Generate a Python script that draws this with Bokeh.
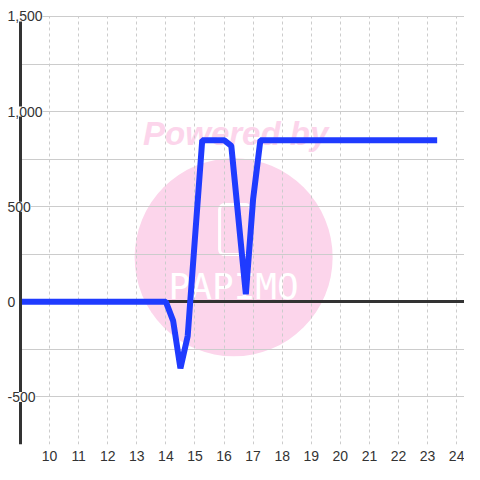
from bokeh.plotting import figure
from bokeh.models import ColumnDataSource, LabelSet, FixedTicker, Grid, Range1d
from bokeh.embed import file_html
from bokeh.resources import INLINE
from bokeh.core.properties import value

# ---- data (hours of day, value) ----
hours = [9.0, 13.75, 14.0, 14.25, 14.5, 14.75, 15.25, 16.0, 16.25, 16.75, 17.0, 17.25, 23.33]
values = [0, 0, 0, -100, -350, -180, 850, 850, 820, 40, 540, 850, 850]

x_ticks = [10, 11, 12, 13, 14, 15, 16, 17, 18, 19, 20, 21, 22, 23, 24]
y_grid_ticks = [-750, -500, -250, 0, 250, 500, 750, 1000, 1250, 1500]
y_label_values = [1500, 1000, 500, 0, -500]
y_label_texts = ["1,500", "1,000", "500", "0", "-500"]
zero_line = [0]

X_MIN, X_MAX = 9, 24.27
Y_MIN, Y_MAX = -750, 1500

FONT = "Liberation Sans"
PINK = "#fcd5eb"
BLUE = "#1f3bff"
DARK = "#333333"
GRID = "#cccccc"

p = figure(width=464, height=464,
           x_range=Range1d(8.312, X_MAX), y_range=Range1d(Y_MIN, 1584),
           output_backend="svg", toolbar_location=None,
           min_border_left=0, min_border_right=0,
           min_border_top=0, min_border_bottom=20)
p.outline_line_color = None
p.background_fill_color = "white"
p.border_fill_color = "white"

# ---- watermark (decoration) ----
p.scatter(x=[16.33], y=[234], size=198, marker="circle",
          fill_color=PINK, line_color=None, level="image")
p.text(x=[16.4], y=[885], text=["Powered by"], text_font=value(FONT),
       text_font_style="bold italic", text_font_size="33px", text_color=PINK,
       text_align="center", text_baseline="middle", level="image")
p.rect(x=[16.38], y=[380], width=31, height=50, width_units="screen",
       height_units="screen", fill_color=None, line_color="white",
       line_width=3, border_radius=5, level="image")
p.text(x=[16.33], y=[78], text=["PAPIMO"], text_font=value("DejaVu Sans Mono"),
       text_font_size="36px", text_color="white",
       text_align="center", text_baseline="middle", level="image")

# ---- grids ----
p.xaxis.ticker = FixedTicker(ticks=x_ticks)
p.xgrid.ticker = FixedTicker(ticks=x_ticks)
p.ygrid.ticker = FixedTicker(ticks=y_grid_ticks)
p.xgrid.cross_bounds = (Y_MIN, Y_MAX)
p.ygrid.cross_bounds = (X_MIN, X_MAX)
p.xgrid.grid_line_color = GRID
p.xgrid.grid_line_dash = "3 3"
p.xgrid.grid_line_width = 1
p.ygrid.grid_line_color = GRID
p.ygrid.grid_line_width = 1

zero = Grid(dimension=1, ticker=FixedTicker(ticks=zero_line),
            grid_line_color=DARK, grid_line_width=3,
            cross_bounds=(X_MIN, X_MAX))
p.add_layout(zero)

# ---- series ----
p.line(hours, values, line_color=BLUE, line_width=6)

# ---- axes ----
p.xaxis.axis_line_color = None
p.xaxis.major_tick_out = 0
p.xaxis.major_tick_in = 0
p.xaxis.minor_tick_out = 0
p.xaxis.minor_tick_in = 0
p.xaxis.major_label_text_font = FONT
p.xaxis.major_label_text_font_size = "14px"
p.xaxis.major_label_text_color = DARK
p.xaxis.major_label_standoff = 6

p.yaxis.ticker = FixedTicker(ticks=[])
p.yaxis.fixed_location = X_MIN
p.yaxis.bounds = (Y_MIN, Y_MAX)
p.yaxis.axis_line_color = DARK
p.yaxis.axis_line_width = 3
p.yaxis.major_tick_out = 0
p.yaxis.major_tick_in = 0
p.yaxis.minor_tick_out = 0
p.yaxis.minor_tick_in = 0
p.yaxis.major_label_standoff = 0

ysrc = ColumnDataSource(dict(y=y_label_values, text=y_label_texts))
ylabels = LabelSet(x=X_MIN, y="y", text="text", source=ysrc, x_offset=-13,
                   text_align="left", text_baseline="middle",
                   text_font=value(FONT), text_font_size="14px",
                   text_color=DARK, background_fill_color="white",
                   level="overlay")
p.add_layout(ylabels)

open("out.html", "w").write(file_html(p, INLINE))
